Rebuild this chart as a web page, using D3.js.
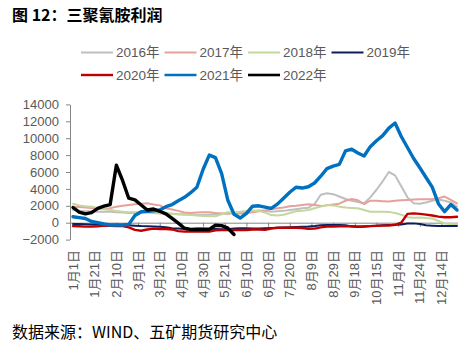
<!DOCTYPE html>
<html><head><meta charset="utf-8">
<script src="https://cdn.jsdelivr.net/npm/d3@7"></script>
<style>
html,body{margin:0;padding:0;background:#fff;}
svg{display:block;}
</style></head>
<body>
<script>
// Sampled every 4 trading days (63 samples per year)
const tickLabels = ["1月1日","1月21日","2月10日","3月1日","3月21日","4月10日","4月30日","5月21日","6月10日","6月30日","7月20日","8月9日","8月29日","9月18日","10月15日","11月4日","11月24日","12月14日"];
const yTicks = [-2000,0,2000,4000,6000,8000,10000,12000,14000];
const seriesNames = ["2016年","2017年","2018年","2019年","2020年","2021年","2022年"];

const v2016 = [1500,1400,1350,1350,1300,1300,1300,1250,1200,1150,1150,1200,1200,1150,1100,1100,1050,1000,1000,950,900,900,950,1000,1050,1100,1150,1200,1250,1300,1450,1400,1300,1350,1400,1500,1600,1700,1780,2200,3300,3480,3380,3100,2800,2600,2450,2300,3000,3900,4900,6000,5600,4300,3000,2300,2250,2400,2600,2750,2600,2400,1900];
const v2017 = [1900,1850,1800,1750,1700,1650,1700,1900,2000,2100,2180,2250,2300,2150,2050,1700,1550,1400,1200,1150,1200,1250,1230,1150,1100,1100,1100,1100,1100,1250,1350,1450,1600,1700,1800,1950,2000,2100,2180,2100,1980,2050,2150,2250,2600,2800,2650,2200,2600,2600,2550,2500,2600,2650,2700,2750,2770,2770,2770,2900,3100,2700,2300];
const v2018 = [2250,2050,1950,1900,1750,1600,1500,1400,1300,1250,1230,1250,1300,1250,1150,1150,1050,1000,950,900,850,800,750,750,1000,1250,1200,1300,1400,1450,1400,1200,900,850,950,1150,1350,1400,1500,1700,1900,2100,2050,1900,1800,1750,1700,1500,1300,1300,1300,1280,1150,950,650,600,620,550,500,200,-100,-150,-150];
const v2019 = [-150,-150,-170,-200,-200,-230,-250,-250,-270,-300,-350,-400,-420,-450,-470,-550,-650,-700,-750,-750,-700,-700,-720,-750,-780,-780,-700,-660,-660,-680,-680,-650,-620,-600,-580,-550,-520,-480,-450,-400,-300,-270,-270,-280,-300,-450,-500,-450,-400,-350,-300,-270,-250,-200,-100,-80,-150,-300,-350,-400,-400,-380,-380];
const v2020 = [-400,-420,-470,-470,-420,-350,-380,-400,-400,-550,-850,-950,-800,-700,-750,-750,-800,-1000,-1050,-1050,-1050,-1050,-1050,-900,-860,-860,-860,-860,-860,-800,-800,-850,-700,-600,-590,-590,-600,-620,-720,-700,-550,-470,-450,-420,-400,-420,-450,-450,-400,-380,-350,-330,-250,0,1050,1100,1050,950,850,720,650,650,700];
const v2021 = [700,600,500,150,0,-150,-270,-270,-270,-200,850,1300,1350,1400,1500,1900,2150,2600,3000,3550,4200,6300,8000,7700,5800,2650,1000,550,1100,1950,2000,1850,1700,2200,2900,3600,4200,4100,4250,4700,5500,6400,6700,6900,8500,8700,8250,7900,9000,9700,10300,11200,11800,10200,8900,7600,6500,5350,4200,2250,1300,2150,1500];
const v2022 = [1800,1250,1050,1200,1700,1950,2150,6800,5000,2900,2700,2100,1500,1620,1350,1050,500,-50,-650,-800,-800,-800,-800,-300,-350,-650,-1400];

const series = [
  {name:seriesNames[0], values:v2016, color:"#bfbfbf", w:2},
  {name:seriesNames[1], values:v2017, color:"#e6a19b", w:2},
  {name:seriesNames[2], values:v2018, color:"#c3d89c", w:2},
  {name:seriesNames[3], values:v2019, color:"#0c1f5c", w:2},
  {name:seriesNames[4], values:v2020, color:"#c00000", w:2.4},
  {name:seriesNames[5], values:v2021, color:"#0070c0", w:3.4},
  {name:seriesNames[6], values:v2022, color:"#000000", w:3.4}
];

const W = 474, H = 354;
const svg = d3.select("body").append("svg").attr("width", W).attr("height", H);
const font = "'Liberation Sans','Noto Sans CJK SC',sans-serif";
const cjk = "'Noto Sans CJK SC','Liberation Sans',sans-serif";

const x = d3.scaleLinear().domain([0, 62]).range([73, 457]);
const y = d3.scaleLinear().domain([-2000, 14000]).range([239.6, 104.4]);

// title
svg.append("text").attr("x", 12).attr("y", 21)
  .attr("font-family", cjk).attr("font-weight", "bold").attr("font-size", 16)
  .attr("fill", "#000").text("图 12：三聚氰胺利润");

// y axis
const yAxis = svg.append("g").attr("transform", "translate(70,0)")
  .call(d3.axisLeft(y).tickValues(yTicks).tickSize(4).tickSizeOuter(0).tickFormat(d3.format("d")).tickPadding(7));
yAxis.select(".domain").attr("stroke", "#868686");
yAxis.selectAll(".tick line").attr("stroke", "#868686");
yAxis.selectAll("text").attr("font-family", font).attr("font-size", 13).attr("fill", "#595959");

// x axis at y=0
const tickPos = tickLabels.map((d, i) => i * 3.5);
const xAxis = svg.append("g").attr("transform", `translate(0,${y(0)})`)
  .call(d3.axisBottom(x).tickValues(tickPos).tickSize(4).tickSizeOuter(0).tickFormat(() => ""));
xAxis.select(".domain").attr("stroke", "#868686").attr("d", `M70,0.5H458`);
xAxis.selectAll(".tick line").attr("stroke", "#868686");

// x labels rotated at bottom
svg.append("g").selectAll("text").data(tickLabels).join("text")
  .attr("transform", (d, i) => `translate(${x(tickPos[i]) + 4.5},250) rotate(-90)`)
  .attr("text-anchor", "end")
  .attr("font-family", font).attr("font-size", 13).attr("fill", "#595959")
  .text(d => d);

// lines
const line = d3.line().x((d, i) => x(i)).y(d => y(d)).curve(d3.curveLinear);
svg.append("g").selectAll("path").data(series).join("path")
  .attr("d", s => line(s.values))
  .attr("fill", "none").attr("stroke", s => s.color).attr("stroke-width", s => s.w)
  .attr("stroke-linejoin", "round").attr("stroke-linecap", "round");

// legend
const lg = svg.append("g");
series.forEach((s, i) => {
  const row = i < 4 ? 0 : 1;
  const col = i < 4 ? i : i - 4;
  const lx = 81 + col * 83.5, ly = row === 0 ? 52.5 : 75;
  lg.append("line").attr("x1", lx).attr("x2", lx + 32).attr("y1", ly).attr("y2", ly)
    .attr("stroke", s.color).attr("stroke-width", Math.min(s.w, 2.6));
  lg.append("text").attr("x", lx + 35).attr("y", ly + 4.7)
    .attr("font-family", font).attr("font-size", 13.5).attr("fill", "#595959").text(s.name);
});

// source
svg.append("text").attr("x", 12).attr("y", 338)
  .attr("font-family", cjk).attr("font-size", 16).attr("fill", "#000")
  .text("数据来源：WIND、五矿期货研究中心");
</script>
</body></html>
